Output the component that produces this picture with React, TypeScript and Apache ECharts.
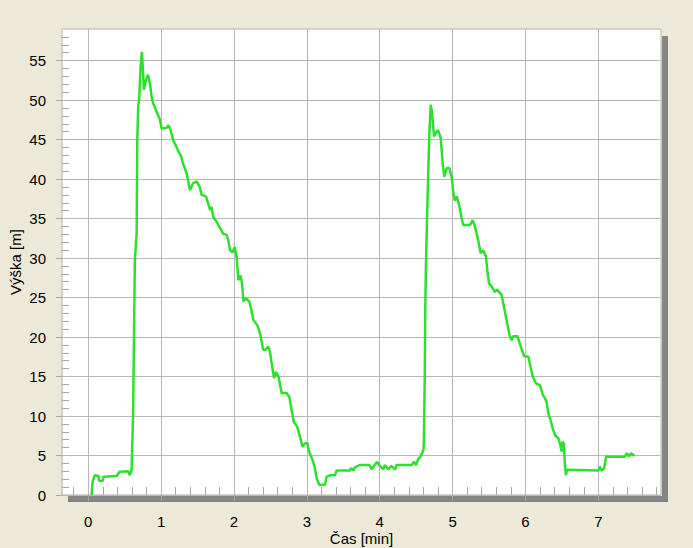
import React, { useEffect, useRef } from "react";
import * as echarts from "echarts";

// time [min]
const timeMin: number[] = [
  0.047, 0.06, 0.09, 0.14, 0.15, 0.2, 0.21, 0.39, 0.43, 0.55, 0.57, 0.595, 0.615, 0.64, 0.664, 0.673,
  0.686, 0.7, 0.718, 0.737, 0.746, 0.764, 0.79, 0.82, 0.847, 0.87, 0.89, 0.94, 0.984, 1.007, 1.076,
  1.1, 1.13, 1.167, 1.21, 1.235, 1.27, 1.3, 1.35, 1.396, 1.44, 1.488, 1.53, 1.556, 1.615, 1.647, 1.67,
  1.69, 1.716, 1.76, 1.81, 1.85, 1.9, 1.92, 1.945, 1.98, 2.01, 2.037, 2.06, 2.09, 2.11, 2.13, 2.165,
  2.21, 2.24, 2.265, 2.32, 2.357, 2.38, 2.4, 2.435, 2.47, 2.494, 2.517, 2.55, 2.576, 2.61, 2.654,
  2.72, 2.76, 2.79, 2.82, 2.87, 2.905, 2.94, 2.97, 3.006, 3.03, 3.08, 3.11, 3.135, 3.17, 3.25, 3.27,
  3.32, 3.386, 3.41, 3.59, 3.61, 3.64, 3.66, 3.73, 3.86, 3.89, 3.93, 3.966, 4.0, 4.05, 4.07, 4.12,
  4.16, 4.21, 4.23, 4.44, 4.47, 4.5, 4.53, 4.56, 4.6, 4.605, 4.618, 4.625, 4.635, 4.65, 4.667, 4.68,
  4.7, 4.72, 4.745, 4.78, 4.8, 4.837, 4.864, 4.886, 4.92, 4.955, 4.99, 5.01, 5.03, 5.056, 5.09, 5.125,
  5.147, 5.24, 5.275, 5.307, 5.35, 5.386, 5.42, 5.458, 5.476, 5.5, 5.537, 5.58, 5.61, 5.674, 5.705,
  5.75, 5.78, 5.81, 5.83, 5.89, 5.915, 5.95, 5.98, 6.04, 6.07, 6.1, 6.145, 6.2, 6.237, 6.27, 6.29,
  6.31, 6.35, 6.375, 6.41, 6.45, 6.474, 6.496, 6.51, 6.527, 6.54, 6.555, 6.57, 7.0, 7.02, 7.046, 7.08,
  7.106, 7.366, 7.39, 7.42, 7.45, 7.48, 7.5,
];

// height [m]
const heightM: number[] = [
  0, 1.7, 2.5, 2.4, 1.8, 1.8, 2.3, 2.4, 2.95, 3.0, 2.5, 3.2, 10, 29.7, 33, 45,
  49.2, 50.2, 54.2, 56.1, 54.6, 51.3, 52.5, 53.2, 52.1, 50.4, 49.6, 48.5, 47.5, 46.4, 46.5,
  46.8, 46.2, 44.9, 44.1, 43.5, 43.0, 42.0, 40.7, 38.6, 39.5, 39.7, 39.0, 38.0, 37.8, 36.9, 36.1,
  36.5, 35.2, 34.6, 33.8, 33.1, 32.9, 32.3, 31.0, 30.7, 31.4, 30.1, 27.2, 27.8, 26.8, 24.5, 24.9,
  24.5, 23.4, 22.2, 21.5, 20.5, 19.4, 18.4, 18.4, 18.8, 18.1, 16.7, 14.8, 15.6, 15.0, 12.9,
  12.9, 12.4, 10.8, 9.3, 8.6, 7.4, 6.1, 6.5, 6.6, 5.5, 4.4, 3.4, 2.1, 1.3, 1.3, 2.3,
  2.5, 2.5, 3.1, 3.1, 3.4, 3.1, 3.5, 3.8, 3.8, 3.25, 3.8, 4.2, 3.7, 3.25, 3.8, 3.25,
  3.7, 3.2, 3.8, 3.8, 4.2, 3.8, 4.6, 4.85, 5.7, 6.5, 15, 23.6, 29.3, 35.2, 41.1, 45.4,
  49.4, 48.3, 45.4, 46.0, 46.2, 45.2, 42.0, 40.3, 41.4, 41.4, 40.1, 38.2, 37.3, 37.8, 36.7, 35.0,
  34.2, 34.2, 34.8, 34.0, 32.3, 30.6, 31.0, 30.2, 28.5, 26.8, 26.4, 25.7, 26.0, 25.3, 23.8,
  21.7, 20.25, 19.6, 20.1, 20.1, 19.4, 18.4, 17.6, 17.5, 16.2, 15.0, 14.1, 13.9, 12.7, 12.2, 11.8,
  10.5, 9.3, 8.4, 7.5, 7.2, 6.5, 5.5, 6.75, 6.5, 4.0, 2.5, 3.2, 3.1, 3.6, 3.1, 3.4,
  4.85, 4.85, 5.3, 4.9, 5.3, 5.0, 5.1,
];

const xMajorTicks: number[] = [0, 1, 2, 3, 4, 5, 6, 7];
const xMinorTicks: number[] = [
  -0.2, 0.2, 0.4, 0.6, 0.8, 1.2, 1.4, 1.6, 1.8, 2.2, 2.4, 2.6, 2.8, 3.2, 3.4, 3.6, 3.8,
  4.2, 4.4, 4.6, 4.8, 5.2, 5.4, 5.6, 5.8, 6.2, 6.4, 6.6, 6.8, 7.2, 7.4, 7.6, 7.8,
];
const yMajorTicks: number[] = [0, 5, 10, 15, 20, 25, 30, 35, 40, 45, 50, 55];
const yMinorTicks: number[] = [
  1, 2, 3, 4, 6, 7, 8, 9, 11, 12, 13, 14, 16, 17, 18, 19, 21, 22, 23, 24, 26, 27, 28, 29,
  31, 32, 33, 34, 36, 37, 38, 39, 41, 42, 43, 44, 46, 47, 48, 49, 51, 52, 53, 54, 56, 57, 58,
];

const X_MIN = -0.36;
const X_MAX = 7.86;
const Y_MIN = 0;
const Y_MAX = 59;

const FONT = "'Liberation Sans', Arial, sans-serif";
const GRID_COLOR = "#b8b8b8";
const TICK_COLOR = "#a8a8a8";

export default function App() {
  const ref = useRef<HTMLDivElement>(null);

  useEffect(() => {
    if (!ref.current) return;
    const chart = echarts.init(ref.current, null, { renderer: "svg" });
    const data = timeMin.map((t, i) => [t, heightM[i]]);

    chart.setOption({
      animation: false,
      backgroundColor: "#ECE9D8",
      grid: {
        left: 62,
        top: 29,
        width: 599,
        height: 466,
        show: true,
        backgroundColor: "#ffffff",
        borderColor: "#b0b0b0",
        borderWidth: 1,
        containLabel: false,
        outerBoundsMode: "none",
      },
      graphic: {
        elements: [
          { type: "rect", z: -5, shape: { x: 662, y: 36, width: 6, height: 466 }, style: { fill: "#858585" } },
          { type: "rect", z: -5, shape: { x: 68, y: 496, width: 600, height: 6 }, style: { fill: "#858585" } },
        ],
      },
      xAxis: [
        {
          type: "value",
          min: X_MIN,
          max: X_MAX,
          position: "bottom",
          name: "Čas [min]",
          nameLocation: "middle",
          nameGap: 36,
          nameMoveOverlap: false,
          nameTextStyle: { fontFamily: FONT, fontSize: 15, color: "#000" },
          axisLine: { show: false, onZero: false },
          axisTick: { show: true, customValues: xMajorTicks, length: 6, lineStyle: { color: TICK_COLOR } },
          axisLabel: { customValues: xMajorTicks, margin: 19, fontFamily: FONT, fontSize: 15, color: "#000" },
          splitLine: { show: true, lineStyle: { color: GRID_COLOR, width: 1 } },
        },
        {
          type: "value",
          min: X_MIN,
          max: X_MAX,
          position: "bottom",
          offset: 0,
          axisLine: { show: false, onZero: false },
          axisTick: { show: true, inside: true, customValues: xMinorTicks, length: 8, lineStyle: { color: TICK_COLOR } },
          axisLabel: { show: false },
          splitLine: { show: false },
        },
      ],
      yAxis: [
        {
          type: "value",
          min: Y_MIN,
          max: Y_MAX,
          position: "left",
          name: "Výška [m]",
          nameLocation: "middle",
          nameGap: 39,
          nameMoveOverlap: false,
          nameTextStyle: { fontFamily: FONT, fontSize: 15, color: "#000" },
          axisLine: { show: false, onZero: false },
          axisTick: { show: true, customValues: yMajorTicks, length: 6, lineStyle: { color: TICK_COLOR } },
          axisLabel: { customValues: yMajorTicks, margin: 16, fontFamily: FONT, fontSize: 15, color: "#000" },
          splitLine: { show: true, lineStyle: { color: GRID_COLOR, width: 1 } },
        },
        {
          type: "value",
          min: Y_MIN,
          max: Y_MAX,
          position: "left",
          offset: 0,
          axisLine: { show: false, onZero: false },
          axisTick: { show: true, inside: true, customValues: yMinorTicks, length: 7, lineStyle: { color: TICK_COLOR } },
          axisLabel: { show: false },
          splitLine: { show: false },
        },
      ],
      series: [
        {
          type: "line",
          xAxisIndex: 0,
          yAxisIndex: 0,
          data,
          showSymbol: false,
          symbol: "none",
          clip: true,
          lineStyle: { color: "#2ee02e", width: 2.5 },
          z: 5,
        },
      ],
    });

    return () => chart.dispose();
  }, []);

  return (
    <div
      ref={ref}
      style={{ position: "fixed", left: 0, top: 0, width: 693, height: 548, background: "#ECE9D8" }}
    />
  );
}
